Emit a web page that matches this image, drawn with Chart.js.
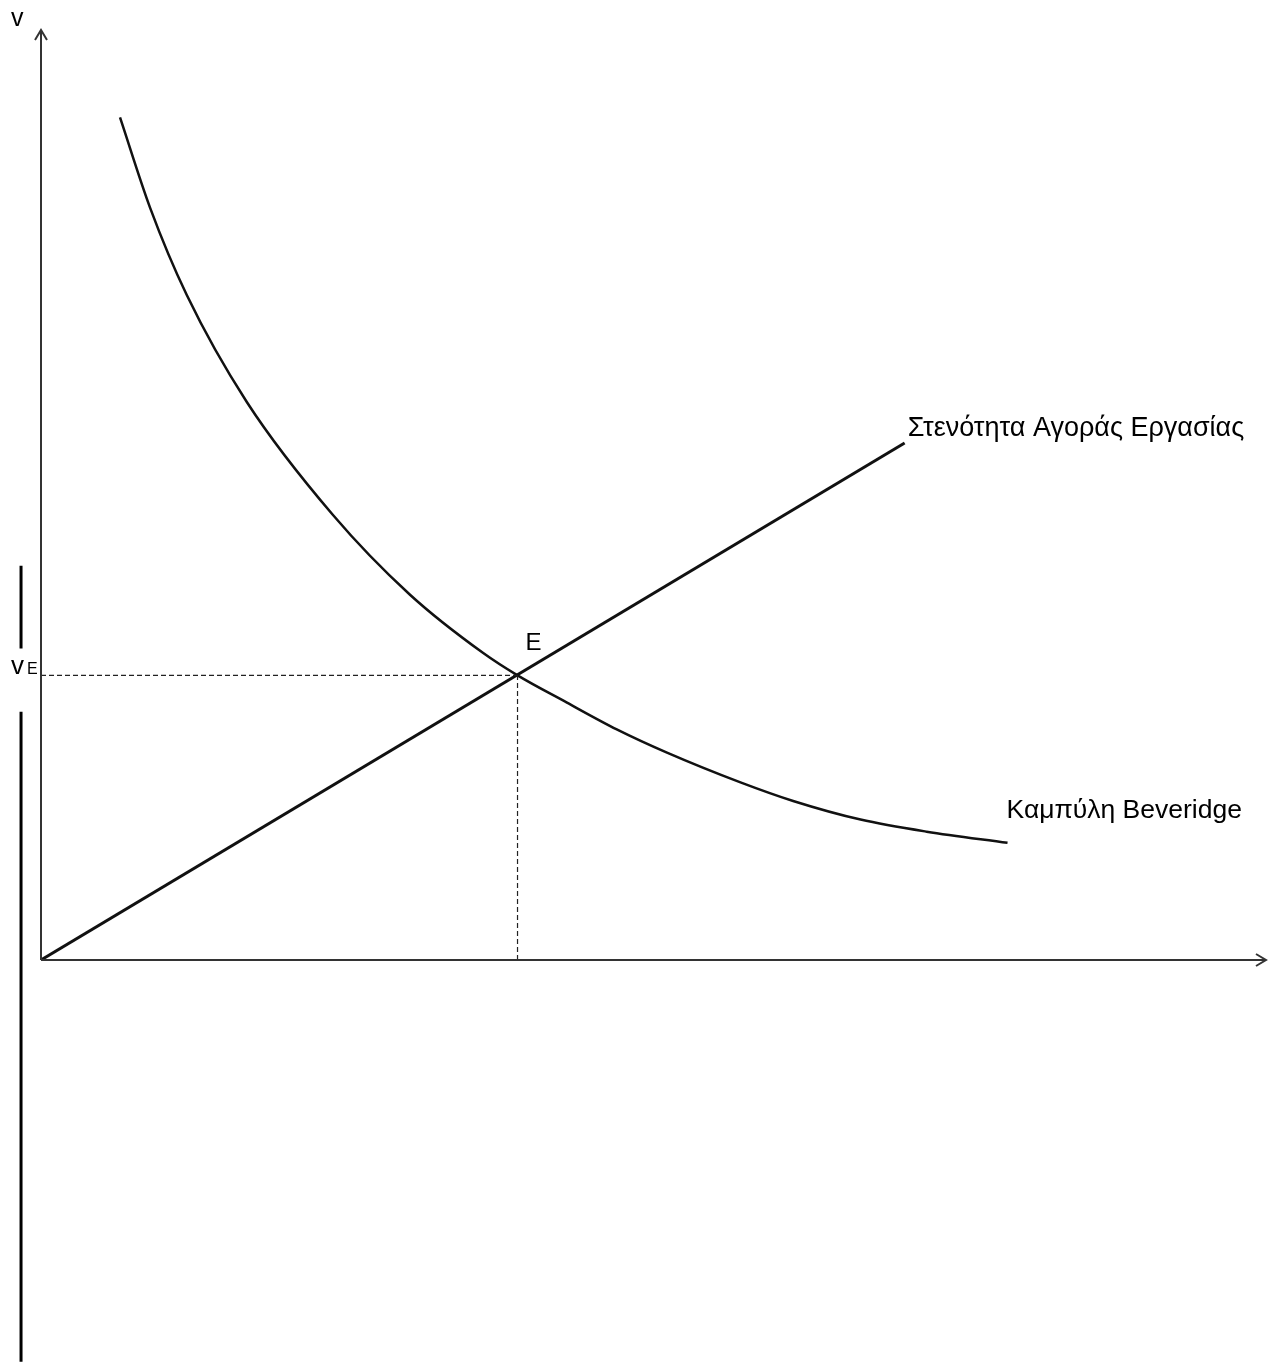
<!DOCTYPE html>
<html>
<head>
<meta charset="utf-8">
<script src="https://cdn.jsdelivr.net/npm/chart.js@4"></script>
<style>
  html, body { margin: 0; padding: 0; background: #fff; }
  #wrap { width: 1276px; height: 1362px; }
</style>
</head>
<body>
<div id="wrap"><canvas id="chart" width="1276" height="1362"></canvas></div>
<script>
// Beveridge curve (u, v)
const beveridgeU = [6.45, 8.9, 11.9, 16.8, 23.8, 30.1, 36.1, 38.9, 42.9, 47.0, 51.1, 57.1, 61.4, 66.9, 72.3, 78.9];
const beveridgeV = [90.6, 80.9, 71.5, 60.0, 47.9, 39.3, 33.0, 30.6, 27.7, 24.8, 22.3, 19.1, 17.1, 15.1, 13.8, 12.6];
// labour market tightness line
const tightnessU = [0, 70.5];
const tightnessV = [0, 55.6];
// equilibrium E
const eqU = 38.9;
const eqV = 30.6;
// side bars (stray marks at the left edge)
const barU = -1.63;
const barTop = [42.4, 33.5];
const barBottom = [26.7, -43.2];

const labelFont = "'Liberation Sans', Arial, sans-serif";

function pts(us, vs) {
    return us.map((u, i) => ({ x: u, y: vs[i] }));
}

const decor = {
    id: 'decor',
    afterDraw(chart) {
        const c = chart.ctx;
        const xs = chart.scales.x, ys = chart.scales.y;
        const a = chart.chartArea;
        c.save();

        // axes with open arrowheads
        c.strokeStyle = '#333';
        c.lineWidth = 2;
        c.beginPath();
        c.moveTo(a.left, a.bottom);
        c.lineTo(a.left, a.top);
        c.moveTo(a.left, a.bottom);
        c.lineTo(a.right, a.bottom);
        c.stroke();
        c.beginPath();
        c.moveTo(a.left - 6, a.top + 10);
        c.lineTo(a.left, a.top);
        c.lineTo(a.left + 6, a.top + 10);
        c.moveTo(a.right - 10, a.bottom - 6);
        c.lineTo(a.right, a.bottom);
        c.lineTo(a.right - 10, a.bottom + 6);
        c.stroke();

        // stray bars on the left
        c.strokeStyle = '#000';
        c.lineWidth = 3;
        c.beginPath();
        c.moveTo(xs.getPixelForValue(barU), ys.getPixelForValue(barTop[0]));
        c.lineTo(xs.getPixelForValue(barU), ys.getPixelForValue(barTop[1]));
        c.moveTo(xs.getPixelForValue(barU), ys.getPixelForValue(barBottom[0]));
        c.lineTo(xs.getPixelForValue(barU), ys.getPixelForValue(barBottom[1]));
        c.stroke();

        // texts
        c.fillStyle = '#000';
        c.textBaseline = 'alphabetic';
        c.textAlign = 'left';
        c.font = '25px ' + labelFont;
        c.fillText('v', 11, 26);

        const eqY = ys.getPixelForValue(eqV);
        c.font = '26px ' + labelFont;
        c.fillText('v', 11, eqY - 1);
        c.font = '16px ' + labelFont;
        c.fillText('E', 27, eqY - 1);

        c.font = '24px ' + labelFont;
        c.fillText('E', xs.getPixelForValue(eqU) + 8, eqY - 25);

        const tEndX = xs.getPixelForValue(tightnessU[1]);
        const tEndY = ys.getPixelForValue(tightnessV[1]);
        c.font = '27px ' + labelFont;
        c.fillText('Στενότητα Αγοράς Εργασίας', tEndX + 3, tEndY - 7);

        const bEndX = xs.getPixelForValue(beveridgeU[beveridgeU.length - 1]);
        const bEndY = ys.getPixelForValue(beveridgeV[beveridgeV.length - 1]);
        c.font = '26.5px ' + labelFont;
        c.fillText('Καμπύλη Beveridge', bEndX - 1, bEndY - 25);

        c.restore();
    }
};

const ctx = document.getElementById('chart');
const chart = new Chart(ctx, {
    type: 'line',
    data: {
        datasets: [
            {
                label: 'vE guide',
                data: [{ x: 0, y: eqV }, { x: eqU, y: eqV }],
                borderColor: '#222',
                borderWidth: 1.2,
                borderDash: [5, 3],
                pointRadius: 0
            },
            {
                label: 'uE guide',
                data: [{ x: eqU, y: 0 }, { x: eqU, y: eqV }],
                borderColor: '#222',
                borderWidth: 1.2,
                borderDash: [5, 3],
                pointRadius: 0
            },
            {
                label: 'Στενότητα Αγοράς Εργασίας',
                data: pts(tightnessU, tightnessV),
                borderColor: '#111',
                borderWidth: 3,
                pointRadius: 0
            },
            {
                label: 'Καμπύλη Beveridge',
                data: pts(beveridgeU, beveridgeV),
                borderColor: '#111',
                borderWidth: 2.5,
                pointRadius: 0,
                cubicInterpolationMode: 'monotone'
            }
        ]
    },
    options: {
        responsive: false,
        animation: false,
        layout: { padding: { left: 41, top: 30, right: 10, bottom: 402 } },
        plugins: {
            legend: { display: false },
            tooltip: { enabled: false }
        },
        scales: {
            x: { type: 'linear', min: 0, max: 100, display: false },
            y: { type: 'linear', min: 0, max: 100, display: false }
        }
    },
    plugins: [decor]
});
</script>
</body>
</html>
